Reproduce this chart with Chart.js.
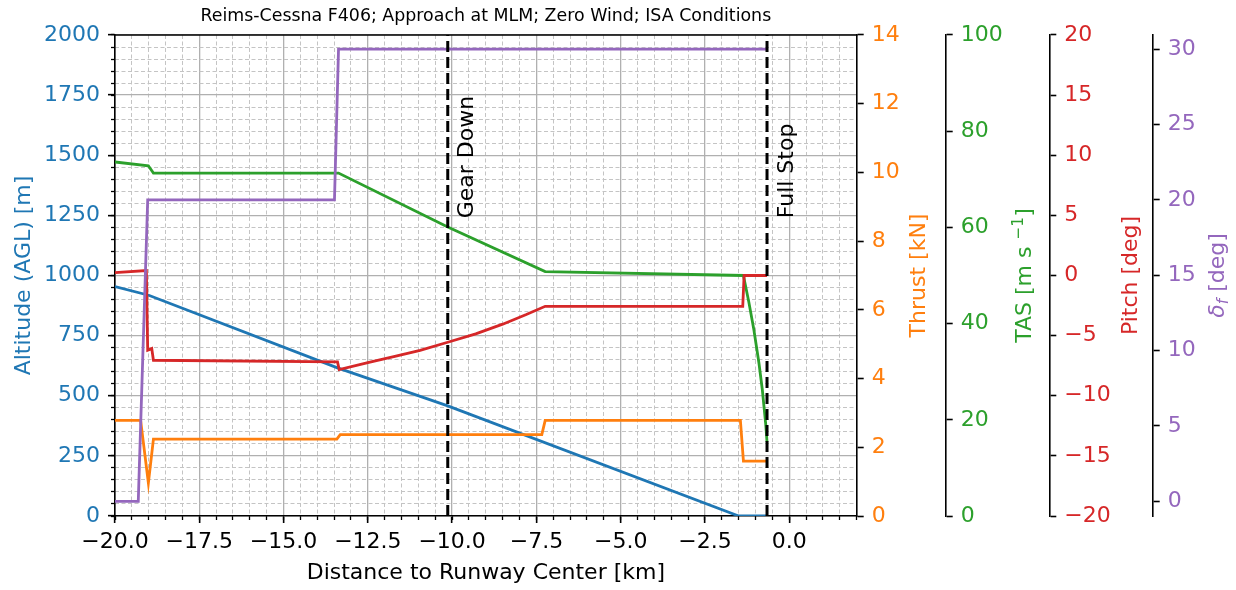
<!DOCTYPE html>
<html>
<head>
<meta charset="utf-8">
<title>Reims-Cessna F406 approach</title>
<script src="https://cdn.jsdelivr.net/npm/chart.js@4.4.1/dist/chart.umd.min.js"></script>
<style>
  html, body { margin: 0; padding: 0; background: #fff; }
</style>
</head>
<body>
<canvas id="approachChart" width="1236" height="590"></canvas>
<script>
// distance to runway center [km] for each trace, and the trace values
const altDist = [-20, -19, -13.4, -10.13, -1.5, -0.66];
const altitude = [954, 918, 616, 458, 0, 0];

const thrustDist = [-20, -19.24, -19.01, -18.86, -13.42, -13.32, -7.34, -7.24, -1.45, -1.36, -0.66];
const thrust = [2.785, 2.785, 0.96, 2.24, 2.24, 2.37, 2.37, 2.785, 2.785, 1.6, 1.6];

const tasDist = [-20, -19.01, -18.86, -13.37, -10.13, -7.24, -1.36, -1.2, -1.05, -0.9, -0.8, -0.7, -0.66];
const tas = [73.6, 72.8, 71.3, 71.3, 60.1, 50.8, 50.0, 44.5, 38.7, 31.8, 26.3, 19.2, 15.4];

const pitchDist = [-20, -19.07, -19.03, -18.91, -18.86, -13.4, -13.35, -12.5, -11.7, -10.95, -10.13, -9.3, -8.5, -7.8, -7.24, -1.38, -1.34, -0.66];
const pitch = [0.24, 0.41, -6.22, -6.08, -7.05, -7.19, -7.82, -7.25, -6.72, -6.22, -5.55, -4.85, -4.05, -3.25, -2.56, -2.56, 0, 0];

const flapDist = [-20, -19.31, -19.03, -13.49, -13.37, -0.66];
const flap = [0, 0, 20, 20, 30, 30];

const eventNames = ['Gear Down', 'Full Stop'];
const eventDist = [-10.13, -0.66];

// major tick values per axis
const xTicks = [-20, -17.5, -15, -12.5, -10, -7.5, -5, -2.5, 0];
const altTicks = [0, 250, 500, 750, 1000, 1250, 1500, 1750, 2000];
const thrustTicks = [0, 2, 4, 6, 8, 10, 12, 14];
const tasTicks = [0, 20, 40, 60, 80, 100];
const pitchTicks = [-20, -15, -10, -5, 0, 5, 10, 15, 20];
const flapTicks = [0, 5, 10, 15, 20, 25, 30];

const BLUE = '#1f77b4', ORANGE = '#ff7f0e', GREEN = '#2ca02c', RED = '#d62728', PURPLE = '#9467bd';
const FONT = '"DejaVu Sans", sans-serif';

Chart.defaults.font.family = FONT;
Chart.defaults.font.size = 22;

function fmt(v, dec) {
    return (dec ? v.toFixed(dec) : String(v)).replace('-', '\u2212');
}

function useTicks(list) {
    return scale => { scale.ticks = list.map(v => ({value: v})); };
}

function series(label, xs, ys, axis, color, order) {
    return {
        label: label,
        data: xs.map((x, i) => ({x: x, y: ys[i]})),
        yAxisID: axis,
        borderColor: color,
        borderWidth: 2.8,
        pointRadius: 0,
        tension: 0,
        fill: false,
        order: order
    };
}

function eventLine(d) {
    return {
        label: 'event',
        data: [{x: d, y: 0}, {x: d, y: 2000}],
        yAxisID: 'y',
        borderColor: '#000',
        borderWidth: 3,
        borderDash: [11, 5],
        pointRadius: 0,
        order: 0
    };
}

function rightAxis(ticks, min, max, color, width, dec) {
    return {
        type: 'linear', position: 'right', min: min, max: max, bounds: 'data',
        afterBuildTicks: useTicks(ticks),
        afterFit: scale => { scale.width = width; },
        grid: { drawOnChartArea: false, tickColor: '#000', tickLength: 7, tickWidth: 1.6 },
        border: { color: '#000', width: 1.6 },
        ticks: { color: color, padding: 8, autoSkip: false, callback: v => fmt(v, dec) }
    };
}

// draws rotated text reading bottom to top; parts = [text, font, shift]
function vText(ctx, parts, x, y, color, align) {
    ctx.save();
    ctx.fillStyle = color;
    ctx.textBaseline = 'alphabetic';
    ctx.textAlign = 'left';
    let total = 0;
    parts.forEach(p => { ctx.font = p[1]; total += ctx.measureText(p[0]).width; });
    ctx.translate(x, y);
    ctx.rotate(-Math.PI / 2);
    let pos = align === 'start' ? 0 : -total / 2;
    parts.forEach(p => {
        ctx.font = p[1];
        ctx.fillText(p[0], pos, p[2] || 0);
        pos += ctx.measureText(p[0]).width;
    });
    ctx.restore();
}

const decorations = {
    id: 'decorations',
    beforeDatasetsDraw(chart) {
        const ctx = chart.ctx;
        const area = chart.chartArea;
        ctx.save();
        ctx.strokeStyle = '#000';
        ctx.lineWidth = 1.6;
        ctx.beginPath();
        ctx.moveTo(area.left - 0.8, area.top);
        ctx.lineTo(area.right + 0.8, area.top);
        ctx.stroke();
        ctx.restore();
    },
    afterDraw(chart) {
        const ctx = chart.ctx;
        const area = chart.chartArea;
        const s = chart.scales;
        const mid = (area.top + area.bottom) / 2;
        const f = '22px ' + FONT;
        const small = '15.4px ' + FONT;

        vText(ctx, [['Altitude (AGL) [m]', f]], s.y.left + 30, mid, BLUE);
        vText(ctx, [['Thrust [kN]', f]], s.thrust.left + 68.3, mid, ORANGE);
        vText(ctx, [['TAS [m s ', f], ['\u22121', small, -8], [']', f]], s.tas.left + 84.8, mid, GREEN);
        vText(ctx, [['Pitch [deg]', f]], s.pitch.left + 87.2, mid, RED);
        vText(ctx, [['\u03b4', 'italic ' + f], ['f', 'italic ' + small, 4], [' [deg]', f]], s.flap.left + 71.3, mid, PURPLE);

        eventNames.forEach((name, i) => {
            const px = s.x.getPixelForValue(eventDist[i]) + 25.5;
            vText(ctx, [[name, f]], px, s.y.getPixelForValue(1238), '#000', 'start');
        });
    }
};

document.addEventListener('DOMContentLoaded', function() {

    const ctx = document.getElementById('approachChart');

    new Chart(ctx, {
        type: 'line',
        data: {
            datasets: [
                eventLine(eventDist[0]),
                eventLine(eventDist[1]),
                series('Altitude', altDist, altitude, 'y', BLUE, 5),
                series('Thrust', thrustDist, thrust, 'thrust', ORANGE, 4),
                series('TAS', tasDist, tas, 'tas', GREEN, 3),
                series('Pitch', pitchDist, pitch, 'pitch', RED, 2),
                series('Flap', flapDist, flap, 'flap', PURPLE, 1)
            ]
        },
        options: {
            responsive: false,
            animation: false,
            events: [],
            devicePixelRatio: 1,
            layout: { padding: 0 },
            plugins: {
                legend: { display: false },
                tooltip: { enabled: false },
                title: {
                    display: true,
                    text: 'Reims-Cessna F406; Approach at MLM; Zero Wind; ISA Conditions',
                    color: '#000',
                    font: { size: 17.4, weight: 'normal' },
                    padding: { top: 6, bottom: 8.1 },
                    fullSize: false
                }
            },
            scales: {
                x: {
                    type: 'linear', position: 'bottom', min: -20, max: 2, bounds: 'data',
                    afterBuildTicks: useTicks(xTicks),
                    afterFit: scale => { scale.height = 74; },
                    grid: { color: '#b0b0b0', lineWidth: 1.3, tickColor: '#000', tickLength: 7, tickWidth: 1.6 },
                    border: { color: '#000', width: 1.6 },
                    ticks: { color: '#000', padding: 6, maxRotation: 0, autoSkip: false, callback: v => fmt(v, 1) },
                    title: { display: true, text: 'Distance to Runway Center [km]', color: '#000', padding: { top: 0, bottom: 4 } }
                },
                xMinor: {
                    type: 'linear', position: 'bottom', weight: -1, min: -20, max: 2, bounds: 'data',
                    afterFit: scale => { scale.height = 0; },
                    grid: {
                        color: c => (c.tick && Math.abs(c.tick.value % 2.5) < 1e-6) ? 'rgba(0,0,0,0)' : '#c4c4c4',
                        lineWidth: 1, tickColor: '#000', tickLength: 4, tickWidth: 1.3
                    },
                    border: { display: false, dash: [4, 2.5] },
                    ticks: { display: false, stepSize: 0.5 }
                },
                y: {
                    type: 'linear', position: 'left', min: 0, max: 2000, bounds: 'data',
                    afterBuildTicks: useTicks(altTicks),
                    afterFit: scale => { scale.width = 115; },
                    grid: { color: '#b0b0b0', lineWidth: 1.3, tickColor: '#000', tickLength: 7, tickWidth: 1.6 },
                    border: { color: '#000', width: 1.6 },
                    ticks: { color: BLUE, padding: 8, autoSkip: false, callback: v => fmt(v, 0) }
                },
                yMinor: {
                    type: 'linear', position: 'left', weight: -1, min: 0, max: 2000, bounds: 'data',
                    afterFit: scale => { scale.width = 0; },
                    grid: {
                        color: c => (c.tick && c.tick.value % 250 === 0) ? 'rgba(0,0,0,0)' : '#c4c4c4',
                        lineWidth: 1, tickColor: '#000', tickLength: 4, tickWidth: 1.3
                    },
                    border: { display: false, dash: [4, 2.5] },
                    ticks: { display: false, stepSize: 50 }
                },
                thrust: rightAxis(thrustTicks, 0, 14, ORANGE, 89, 0),
                tas: rightAxis(tasTicks, 0, 100, GREEN, 103.6, 0),
                pitch: rightAxis(pitchTicks, -20, 20, RED, 103.4, 0),
                flap: rightAxis(flapTicks, -0.975, 30.94, PURPLE, 83.3, 0)
            }
        },
        plugins: [decorations]
    });

});
</script>
</body>
</html>
